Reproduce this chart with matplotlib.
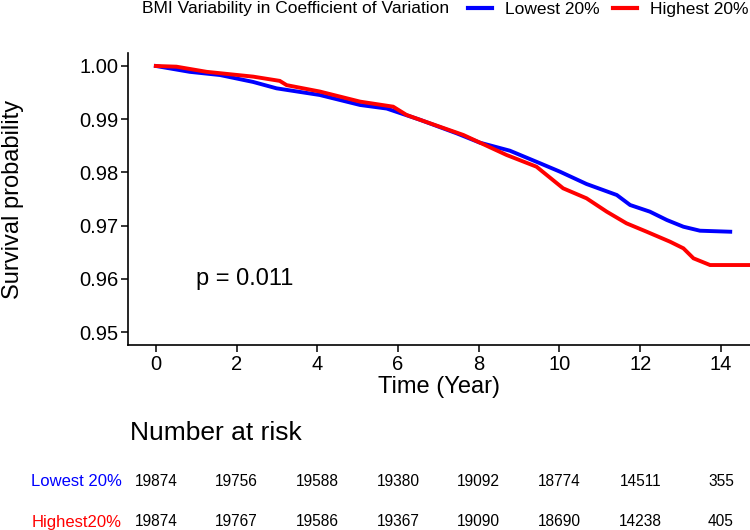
import matplotlib
matplotlib.use('Agg')
import matplotlib.pyplot as plt
import matplotlib.transforms as mtransforms
from matplotlib.lines import Line2D

plt.rcParams['font.family'] = ['Liberation Sans', 'DejaVu Sans']

# survival curves
time_low = [0, 0.84, 1.59, 2.41, 2.99, 4.06, 5.06, 5.72, 6.54, 7.45, 8.03, 8.77,
            9.52, 10.01, 10.67, 11.42, 11.75, 12.24, 12.66, 13.07, 13.48, 14.23]
surv_low = [1.0, 0.9989, 0.9983, 0.9970, 0.9958, 0.99455, 0.99267, 0.9920, 0.9899,
            0.98735, 0.98558, 0.98408, 0.98171, 0.98014, 0.97782, 0.97575, 0.97387,
            0.97262, 0.97105, 0.96979, 0.96904, 0.96885]

time_high = [0, 0.51, 1.26, 2.41, 3.07, 3.24, 4.06, 5.06, 5.88, 6.21, 6.54, 7.62,
             8.69, 9.43, 10.09, 10.67, 11.17, 11.66, 12.16, 12.74, 13.07, 13.32,
             13.73, 14.72]
surv_high = [1.0, 0.99987, 0.9989, 0.998, 0.9972, 0.9964, 0.9952, 0.9933, 0.99235,
             0.9908, 0.9899, 0.98703, 0.98327, 0.98107, 0.97701, 0.97513, 0.97262,
             0.97043, 0.96885, 0.96697, 0.96573, 0.96385, 0.96259, 0.96259]

risk_times = [0, 2, 4, 6, 8, 10, 12, 14]
risk_low = [19874, 19756, 19588, 19380, 19092, 18774, 14511, 355]
risk_high = [19874, 19767, 19586, 19367, 19090, 18690, 14238, 405]

group_names = ['Lowest 20%', 'Highest 20%']
table_names = ['Lowest 20%', 'Highest20%']
colors = ['#0000ff', '#ff0000']

fig = plt.figure(figsize=(7.5, 5.3), dpi=100)
ax = fig.add_axes([128 / 750, 1 - 345 / 530, 622 / 750, 292 / 530])

ax.plot(time_low, surv_low, color=colors[0], lw=2.8, solid_joinstyle='miter')
ax.plot(time_high, surv_high, color=colors[1], lw=2.8, solid_joinstyle='miter')

ax.set_xlim(-0.69, 14.72)
ax.set_ylim(0.94756, 1.00244)
ax.set_xticks(risk_times)
ax.set_yticks([0.95, 0.96, 0.97, 0.98, 0.99, 1.00])
ax.set_yticklabels(['0.95', '0.96', '0.97', '0.98', '0.99', '1.00'])
ax.tick_params(labelsize=14.5, length=5, width=1.1, pad=2, colors='black')
for side in ['top', 'right']:
    ax.spines[side].set_visible(False)
for side in ['left', 'bottom']:
    ax.spines[side].set_linewidth(1.2)

ax.set_xlabel('Time (Year)', fontsize=17, labelpad=2)
ax.set_ylabel('Survival probability', fontsize=17)
ax.yaxis.set_label_coords(-0.168, 0.5)

ax.text(1.0, 0.96, 'p = 0.011', fontsize=17, ha='left', va='center')

# legend across the top
fig.text(142 / 750, 1 - 9 / 530, 'BMI Variability in Coefficient of Variation',
         fontsize=12.5, ha='left', va='center')
handles = [Line2D([], [], color=c, lw=3) for c in colors]
fig.legend(handles, group_names, ncol=2, frameon=False, fontsize=12.5,
           loc='center right', bbox_to_anchor=(748 / 750, 1 - 9 / 530),
           handlelength=1.4, handletextpad=0.7, columnspacing=0.8,
           borderaxespad=0, borderpad=0)

# number at risk table
fig.text(130 / 750, 1 - 433 / 530, 'Number at risk', fontsize=19, ha='left', va='center')
trans = mtransforms.blended_transform_factory(ax.transData, fig.transFigure)
rows = [(risk_low, 1 - 482 / 530), (risk_high, 1 - 522 / 530)]
for i, (vals, y) in enumerate(rows):
    fig.text(122 / 750, y, table_names[i], color=colors[i], fontsize=12,
             ha='right', va='center')
    for t, v in zip(risk_times, vals):
        ax.text(t, y, str(v), transform=trans, fontsize=11.2, ha='center',
                va='center', clip_on=False)

fig.savefig('out.png', dpi=100)
